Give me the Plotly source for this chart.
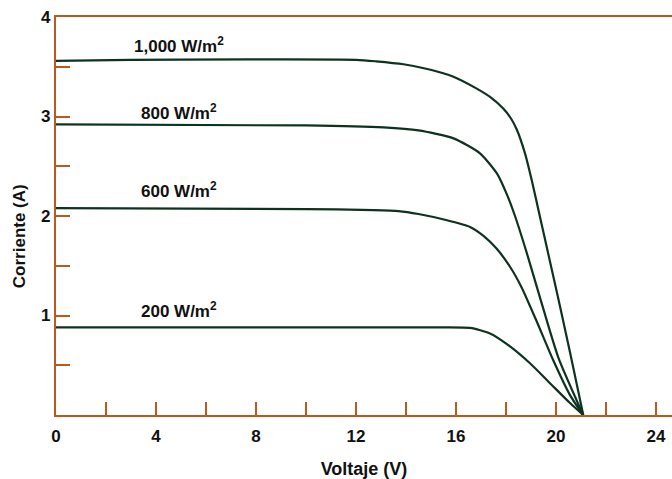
import plotly.graph_objects as go

# I-V curves of a solar panel at different irradiances
v_1000 = [0, 3.0, 12.0, 12.8, 13.9, 14.9, 15.9, 16.83, 17.4, 17.89, 18.2, 18.43, 18.76, 19.03, 19.36, 19.69, 20.1, 20.56, 21.09]
i_1000 = [3.56, 3.57, 3.57, 3.555, 3.525, 3.475, 3.40, 3.28, 3.19, 3.08, 2.98, 2.87, 2.63, 2.36, 1.99, 1.62, 1.16, 0.63, 0.0]

v_800 = [0, 10.0, 13.1, 14.5, 15.9, 16.96, 17.63, 18.03, 18.36, 18.83, 19.36, 20.09, 21.09]
i_800 = [2.92, 2.91, 2.89, 2.86, 2.78, 2.63, 2.43, 2.22, 2.00, 1.63, 1.18, 0.58, 0.0]

v_600 = [0, 10.0, 12.7, 13.7, 14.5, 15.6, 16.56, 17.1, 17.63, 18.16, 18.63, 19.23, 19.89, 20.56, 21.09]
i_600 = [2.08, 2.07, 2.06, 2.05, 2.02, 1.96, 1.89, 1.80, 1.67, 1.49, 1.28, 0.94, 0.55, 0.20, 0.0]

v_200 = [0, 15.0, 16.56, 17.36, 18.16, 18.96, 19.76, 20.56, 21.09]
i_200 = [0.88, 0.88, 0.875, 0.82, 0.69, 0.52, 0.32, 0.12, 0.0]

curve_labels = ["1,000 W/m<sup>2</sup>", "800 W/m<sup>2</sup>", "600 W/m<sup>2</sup>", "200 W/m<sup>2</sup>"]
label_x = [4.9, 4.9, 4.9, 4.9]
label_y = [3.72, 3.05, 2.26, 1.06]

x_tickvals = [0, 2, 4, 6, 8, 10, 12, 14, 16, 18, 20, 22, 24]
x_ticktext = ["0", "", "4", "", "8", "", "12", "", "16", "", "20", "", "24"]
y_tickvals = [0, 0.5, 1, 1.5, 2, 2.5, 3, 3.5, 4]
y_ticktext = ["", "", "1", "", "2", "", "3", "", "4"]

AXIS = "#bb5a1c"
LINE = "#0c3320"
FONT = "Liberation Sans, Arial, sans-serif"

fig = go.Figure()
for vx, iy in [(v_1000, i_1000), (v_800, i_800), (v_600, i_600), (v_200, i_200)]:
    fig.add_trace(go.Scatter(x=vx, y=iy, mode="lines",
                             line=dict(color=LINE, width=2.2, shape="spline", smoothing=0.6),
                             showlegend=False, hoverinfo="skip"))

for t, lx, ly in zip(curve_labels, label_x, label_y):
    fig.add_annotation(x=lx, y=ly, text="<b>" + t + "</b>", showarrow=False,
                       font=dict(family=FONT, size=17, color="#111"))

fig.add_annotation(xref="paper", yref="paper", x=-0.058, y=0.45,
                   xanchor="center", yanchor="middle",
                   text="<b>Corriente (A)</b>", textangle=-90, showarrow=False,
                   font=dict(family=FONT, size=17, color="#111"))

fig.update_layout(
    width=672, height=479,
    margin=dict(l=56, r=0, t=17, b=64),
    paper_bgcolor="white", plot_bgcolor="white",
    xaxis=dict(range=[0, 24.64], tickvals=x_tickvals, ticktext=x_ticktext,
               ticks="inside", ticklen=13, tickwidth=2, tickcolor=AXIS,
               showline=True, linecolor=AXIS, linewidth=2.2, mirror=True,
               showgrid=False, zeroline=False, automargin=False,
               ticklabelstandoff=4,
               tickfont=dict(family=FONT, size=17, color="#111", weight="bold"),
               title=dict(text="<b>Voltaje (V)</b>", standoff=18,
                          font=dict(family=FONT, size=18, color="#111"))),
    yaxis=dict(range=[0, 4], tickvals=y_tickvals, ticktext=y_ticktext,
               ticks="inside", ticklen=14, tickwidth=2, tickcolor=AXIS,
               showline=True, linecolor=AXIS, linewidth=2.2,
               showgrid=False, zeroline=False, automargin=False,
               tickfont=dict(family=FONT, size=17, color="#111", weight="bold")),
)

fig.write_html("out.html", config={"displayModeBar": False},
               post_script="document.body.style.margin='0';document.body.style.overflow='hidden';")
